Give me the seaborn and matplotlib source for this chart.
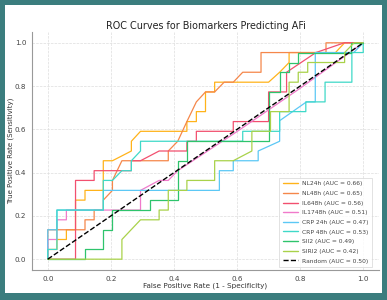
import numpy as np
import pandas as pd
import seaborn as sns
import matplotlib.pyplot as plt
from matplotlib.patches import Rectangle


sns.set_theme(style="whitegrid")


# ROC curve vertices (fpr, tpr)
nl24h_fpr = [0, 0, 0.029, 0.029, 0.059, 0.059, 0.088, 0.088, 0.118, 0.118, 0.176, 0.176, 0.205, 0.265, 0.265,
             0.294, 0.441, 0.441, 0.471, 0.471, 0.5, 0.5, 0.529, 0.529, 0.7, 0.735, 0.765, 0.765, 0.912, 0.941, 1.0]
nl24h_tpr = [0, 0.045, 0.045, 0.091, 0.091, 0.136, 0.136, 0.273, 0.273, 0.318, 0.318, 0.455, 0.455, 0.5, 0.545,
             0.591, 0.591, 0.636, 0.636, 0.682, 0.682, 0.773, 0.773, 0.818, 0.818, 0.864, 0.909, 0.955, 0.955, 1.0, 1.0]

nl48h_fpr = [0, 0, 0.118, 0.118, 0.147, 0.147, 0.176, 0.176, 0.205, 0.205, 0.235, 0.382, 0.382, 0.412, 0.441,
             0.471, 0.5, 0.529, 0.559, 0.588, 0.618, 0.676, 0.676, 0.882, 0.882, 1.0]
nl48h_tpr = [0, 0.136, 0.136, 0.182, 0.182, 0.227, 0.227, 0.273, 0.318, 0.364, 0.455, 0.455, 0.5, 0.545, 0.636,
             0.727, 0.773, 0.773, 0.818, 0.818, 0.864, 0.864, 0.955, 0.955, 1.0, 1.0]

il648h_fpr = [0, 0.088, 0.088, 0.147, 0.147, 0.265, 0.265, 0.294, 0.353, 0.441, 0.441, 0.471, 0.471, 0.588,
              0.588, 0.7, 0.7, 0.757, 0.757, 0.85, 0.94, 1.0]
il648h_tpr = [0, 0, 0.364, 0.364, 0.409, 0.409, 0.455, 0.455, 0.5, 0.5, 0.545, 0.545, 0.591, 0.591,
              0.636, 0.636, 0.773, 0.773, 0.864, 0.955, 1.0, 1.0]

il1748h_fpr = [0, 0, 0.029, 0.029, 0.059, 0.059, 0.294, 0.294, 0.353, 0.382, 0.412, 0.6, 0.8, 1.0]
il1748h_tpr = [0, 0.091, 0.091, 0.182, 0.182, 0.227, 0.227, 0.318, 0.364, 0.364, 0.409, 0.59, 0.79, 1.0]

crp24h_fpr = [0, 0, 0.029, 0.029, 0.176, 0.176, 0.544, 0.544, 0.588, 0.588, 0.667, 0.667, 0.735, 0.735, 0.82,
              0.848, 0.848, 0.97, 1.0]
crp24h_tpr = [0, 0.136, 0.136, 0.227, 0.227, 0.318, 0.318, 0.409, 0.409, 0.455, 0.455, 0.5, 0.545, 0.64, 0.727,
              0.727, 0.955, 0.955, 1.0]

crp48h_fpr = [0, 0, 0.029, 0.029, 0.176, 0.176, 0.205, 0.235, 0.265, 0.265, 0.294, 0.294, 0.618, 0.618, 0.735,
              0.735, 0.818, 0.818, 0.879, 0.879, 0.964, 0.964, 1.0, 1.0]
crp48h_tpr = [0, 0.045, 0.045, 0.227, 0.227, 0.364, 0.364, 0.409, 0.409, 0.455, 0.5, 0.545, 0.545, 0.591, 0.591,
              0.682, 0.682, 0.727, 0.727, 0.818, 0.818, 0.955, 0.955, 1.0]

sii2_fpr = [0, 0.118, 0.118, 0.176, 0.176, 0.205, 0.205, 0.324, 0.324, 0.412, 0.412, 0.441, 0.441, 0.7, 0.7,
            0.735, 0.735, 0.765, 0.765, 0.794, 0.794, 0.96, 0.96, 1.0]
sii2_tpr = [0, 0, 0.045, 0.045, 0.136, 0.136, 0.227, 0.227, 0.273, 0.273, 0.455, 0.455, 0.545, 0.545, 0.773,
            0.773, 0.864, 0.864, 0.909, 0.909, 0.955, 0.955, 1.0, 1.0]

siri2_fpr = [0, 0.235, 0.235, 0.294, 0.353, 0.353, 0.382, 0.382, 0.441, 0.441, 0.529, 0.529, 0.588, 0.647, 0.647,
             0.706, 0.706, 0.765, 0.765, 0.794, 0.794, 0.824, 0.824, 0.941, 0.941, 0.971, 1.0]
siri2_tpr = [0, 0, 0.091, 0.182, 0.182, 0.227, 0.227, 0.318, 0.318, 0.364, 0.364, 0.455, 0.455, 0.5, 0.591,
             0.591, 0.682, 0.682, 0.818, 0.818, 0.864, 0.864, 0.909, 0.909, 0.955, 1.0, 1.0]

random_fpr = [0, 1]
random_tpr = [0, 1]

markers = ["NL24h", "NL48h", "IL648h", "IL1748h", "CRP 24h", "CRP 48h", "SII2", "SIRI2"]
aucs = [0.66, 0.65, 0.56, 0.51, 0.47, 0.53, 0.49, 0.42]
curves = [(nl24h_fpr, nl24h_tpr), (nl48h_fpr, nl48h_tpr), (il648h_fpr, il648h_tpr),
          (il1748h_fpr, il1748h_tpr), (crp24h_fpr, crp24h_tpr), (crp48h_fpr, crp48h_tpr),
          (sii2_fpr, sii2_tpr), (siri2_fpr, siri2_tpr)]
colors = ["#FFB31A", "#F5874A", "#F2506F", "#F07ACB", "#5CC8F5", "#3FD9C8", "#2EC46C", "#A9D24A"]


# long-form frame for seaborn
rows = []
for name, auc, (fpr, tpr) in zip(markers, aucs, curves):
    label = f"{name} (AUC = {auc:.2f})"
    for i, (x, y) in enumerate(zip(fpr, tpr)):
        rows.append({"label": label, "order": i, "fpr": x, "tpr": y})
df = pd.DataFrame(rows)
labels = list(df["label"].unique())
palette = dict(zip(labels, colors))

fig = plt.figure(figsize=(3.87, 3.0), dpi=100, facecolor="#3b7d7e")
fig.patches.append(Rectangle((5 / 387, 7 / 300), 377 / 387, 288 / 300,
                             transform=fig.transFigure, facecolor="white", edgecolor="none", zorder=-10))
ax = fig.add_axes([32 / 387, 30 / 300, 347 / 387, 238 / 300])
ax.set_facecolor("white")

sns.lineplot(data=df, x="fpr", y="tpr", hue="label", palette=palette, estimator=None,
             sort=False, linewidth=0.9, ax=ax, legend=True)
ax.plot(random_fpr, random_tpr, color="black", linestyle="--", linewidth=1.0,
        label="Random (AUC = 0.50)", zorder=5)

ax.set_xlim(-0.05, 1.05)
ax.set_ylim(-0.05, 1.05)
ax.set_xticks(np.arange(0, 1.01, 0.2))
ax.set_yticks(np.arange(0, 1.01, 0.2))
ax.grid(True, linestyle="--", linewidth=0.5, color="#dddddd")
for side in ["top", "right"]:
    ax.spines[side].set_visible(False)
for side in ["left", "bottom"]:
    ax.spines[side].set_color("#999999")
    ax.spines[side].set_linewidth(0.8)
ax.tick_params(labelsize=5.2, colors="#444444", length=2, width=0.5, pad=2)

ax.set_title("ROC Curves for Biomarkers Predicting AFi", fontsize=6.9, color="#222222", pad=2.5)
ax.set_xlabel("False Positive Rate (1 - Specificity)", fontsize=5.2, color="#333333", labelpad=1)
ax.set_ylabel("True Positive Rate (Sensitivity)", fontsize=5.0, color="#333333")
ax.yaxis.set_label_coords(-18 / 347, 0.5)

leg = ax.legend(loc="lower right", bbox_to_anchor=(0.98, 0.012), borderaxespad=0, fontsize=4.3,
                handlelength=2.6, handletextpad=0.6, labelspacing=0.75, borderpad=0.6,
                frameon=True, fancybox=False, edgecolor="#cccccc")
leg.get_frame().set_linewidth(0.5)
for text in leg.get_texts():
    text.set_color("#444444")
for line in leg.get_lines():
    line.set_linewidth(1.0)

fig.savefig("out.png", dpi=100, facecolor=fig.get_facecolor())
